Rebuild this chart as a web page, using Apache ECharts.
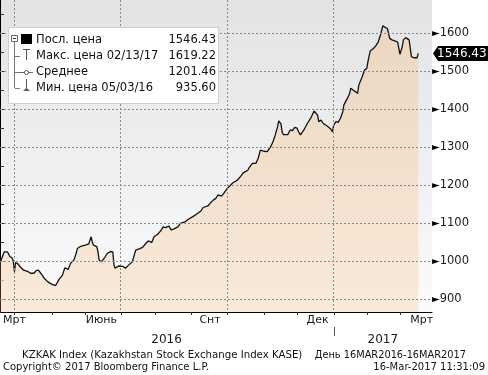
<!DOCTYPE html>
<html><head><meta charset="utf-8">
<script src="https://cdn.jsdelivr.net/npm/echarts@6/dist/echarts.min.js"></script>
<style>html,body{margin:0;padding:0;background:#fff}#c{width:488px;height:375px}</style>
</head><body><div id="c"></div>
<script>
// trading-day positions (days after 16 Mar 2016) and closing values of KZKAK Index
const dayOffsets = [0,3,6,8,10,11,12,13,15,17,20,24,25,26,29,31,33,35,38,41,44,45,48,51,54,56,59,61,64,66,67,70,74,77,79,80,81,84,85,86,88,91,93,96,98,99,100,103,107,109,112,115,116,118,121,124,127,129,132,134,137,140,142,144,147,149,151,155,157,161,164,168,172,175,177,181,183,186,188,190,193,195,198,201,203,207,210,212,213,216,217,220,223,225,227,230,233,236,238,240,242,243,245,246,247,251,252,253,255,257,259,260,262,265,268,271,273,274,277,278,280,282,285,288,290,291,293,295,297,299,300,303,305,306,308,310,312,313,316,318,320,321,323,326,328,330,332,334,336,338,340,342,345,347,348,349,351,352,354,355,357,359,361,362,364,365];
const closes = [1000,1024,1024,1012,1008,1000,972,996,993,985,976,972,975,968,968,975,976,968,955,946,940,942,935.6,952,963,982,978,994,1003,1021,1033,1039,1042,1045,1064,1051,1042,1038,1025,1003,998,1010,1020,1025,1024,990,981,987,986,981,990,998,1008,1029,1032,1036,1047,1053,1049,1064,1070,1080,1090,1088,1092,1082,1084,1090,1099,1103,1110,1117,1125,1132,1141,1145,1152,1161,1165,1174,1171,1178,1191,1200,1206,1213,1224,1232,1228,1239,1245,1257,1257,1270,1292,1289,1288,1301,1314,1332,1353,1369,1361,1340,1333,1333,1335,1345,1343,1352,1350,1342,1332,1345,1362,1376,1389,1395,1384,1367,1371,1362,1356,1349,1340,1358,1367,1365,1376,1393,1411,1428,1441,1455,1450,1446,1441,1463,1485,1503,1507,1525,1553,1560,1567,1577,1595,1619.22,1615,1612,1586,1582,1579,1576,1560,1544,1564,1582,1588,1584,1582,1538,1535,1540,1535,1546.43];

const yLabelMin = 900, yLabelMax = 1600, yLabelStep = 100;
const yTickMin = 900, yTickMax = 1650, yTickStep = 50;
const yMin = 866, yMax = 1687;
const xMax = 377;
const monthTicks = [12,45,74,105,135,166,198,230,259,291,320,349];
const quarterLines = [12,105,198,291];
const monthLabelPos = [12,88,183,277,368];
const monthLabels = ['Мрт','Июнь','Снт','Дек','Мрт'];
const yearLabelPos = [145,334];
const yearLabels = ['2016','2017'];
const yearBreak = 291;
const legendNames = ['Посл. цена','Макс. цена 02/13/17','Среднее','Мин. цена 05/03/16'];
const legendValues = ['1546.43','1619.22','1201.46','935.60'];
const lastPrice = 1546.43;
const footer1 = 'KZKAK Index (Kazakhstan Stock Exchange Index KASE)';
const footer1b = 'День 16MAR2016-16MAR2017';
const footer2 = 'Copyright© 2017 Bloomberg Finance L.P.';
const footer2b = '16-Mar-2017 11:31:09';

const FONT = 'DejaVu Sans';
const W = 488, H = 375, G = {left:0, right:56, top:0, bottom:63};
const plotW = W - G.left - G.right, plotH = H - G.top - G.bottom;
const py = v => G.top + (yMax - v) / (yMax - yMin) * plotH;
const px = d => G.left + d / xMax * plotW;

const chart = echarts.init(document.getElementById('c'), null, {renderer:'canvas'});
const dotted = {color:'#8a8a8a', width:1, type:[2,2]};
const hiddenAxis = {show:false};

const option = {
  animation:false,
  textStyle:{fontFamily:FONT},
  grid:[
    {left:G.left, right:G.right, top:G.top, bottom:G.bottom, show:true, borderWidth:0,
      backgroundColor:new echarts.graphic.LinearGradient(0,0,0,1,[{offset:0,color:'#e2e3e5'},{offset:1,color:'#fbfbfc'}])},
    {left:G.left, right:G.right, top:py(yLabelMax), bottom:H - py(yLabelMin)},
    {left:px(quarterLines[0]), right:W - px(quarterLines[quarterLines.length-1]), top:G.top, bottom:G.bottom},
    {left:G.left, right:G.right, top:py(yTickMax), bottom:H - py(yTickMin)}
  ],
  xAxis:[{
    gridIndex:0, type:'value', min:0, max:xMax, position:'bottom',
    axisLine:{show:true, lineStyle:{color:'#000', width:1}}, splitLine:{show:false}, axisTick:{show:false},
    axisLabel:{customValues:monthLabelPos, margin:3, fontSize:11, color:'#1a1a1a', fontFamily:FONT,
      formatter:v=>monthLabels[monthLabelPos.indexOf(v)]}
  },{
    gridIndex:0, type:'value', min:0, max:xMax, position:'bottom', offset:14,
    axisLine:{show:false}, splitLine:{show:false}, axisTick:{show:false},
    axisLabel:{customValues:yearLabelPos, margin:8, fontSize:12, color:'#1a1a1a', fontFamily:FONT,
      formatter:v=>yearLabels[yearLabelPos.indexOf(v)]}
  },
  Object.assign({gridIndex:1, type:'value', min:0, max:1}, hiddenAxis),
  {
    gridIndex:2, type:'value', min:0, max:quarterLines.length-1, interval:1, z:5,
    axisLine:{show:false}, axisTick:{show:false}, axisLabel:{show:false},
    splitLine:{show:true, lineStyle:dotted}
  },
  Object.assign({gridIndex:3, type:'value', min:0, max:1}, hiddenAxis)
  ],
  yAxis:[{
    gridIndex:0, type:'value', min:yMin, max:yMax, position:'right',
    axisLine:{show:true, lineStyle:{color:'#000', width:1}},
    splitLine:{show:false}, axisTick:{show:false}, axisLabel:{show:false}
  },{
    gridIndex:1, type:'value', min:yLabelMin, max:yLabelMax, interval:yLabelStep, position:'right', z:5,
    axisLine:{show:false}, axisTick:{show:false},
    splitLine:{show:true, lineStyle:dotted},
    axisLabel:{show:true, margin:0, color:'#1a1a1a', fontFamily:FONT, showMinLabel:true, showMaxLabel:true,
      formatter:v=>'{t|►}{v|'+v+'}',
      rich:{t:{fontSize:10, color:'#000', fontFamily:FONT}, v:{fontSize:11.5, color:'#1a1a1a', fontFamily:FONT}}}
  },
  Object.assign({gridIndex:2, type:'value', min:0, max:1}, hiddenAxis),
  {
    gridIndex:3, type:'value', min:yTickMin, max:yTickMax, interval:yTickStep, position:'right',
    axisLine:{show:false}, axisLabel:{show:false}, splitLine:{show:false},
    axisTick:{show:true, length:4, lineStyle:{color:'#333'}}
  }],
  series:[{
    type:'line', xAxisIndex:0, yAxisIndex:0, z:2,
    data:dayOffsets.map((d,i)=>[d,closes[i]]),
    showSymbol:false, symbol:'none',
    lineStyle:{color:'#111', width:1.3},
    areaStyle:{origin:'start', color:new echarts.graphic.LinearGradient(0,0,0,1,[{offset:0,color:'#eed1b2'},{offset:1,color:'#f8e2ca'}])}
  }]
};
chart.setOption(option);

const g = [];
const xR = chart.convertToPixel({xAxisIndex:0}, xMax);
const yB = chart.convertToPixel({yAxisIndex:0}, yMin);
// month ticks and year separator
monthTicks.forEach(v=>{
  const x = Math.round(chart.convertToPixel({xAxisIndex:0}, v)) + 0.5;
  g.push({type:'line', silent:true, shape:{x1:x,y1:yB,x2:x,y2:yB+3}, style:{stroke:'#333', lineWidth:1}, z:20});
});
{
  const x = Math.round(chart.convertToPixel({xAxisIndex:0}, yearBreak)) + 0.5;
  g.push({type:'line', silent:true, shape:{x1:x,y1:yB+15,x2:x,y2:yB+24}, style:{stroke:'#555', lineWidth:1}, z:20});
}
// legend box
const rowsY = [40,56,72,88];
g.push({type:'rect', shape:{x:8.5,y:27.5,width:210,height:76}, style:{fill:'#fff', stroke:'#cfcfcf', lineWidth:1}, z:100});
g.push({type:'rect', shape:{x:11.5,y:35.5,width:6,height:6}, style:{fill:'#fff', stroke:'#666'}, z:101});
g.push({type:'line', shape:{x1:13,y1:38.5,x2:16,y2:38.5}, style:{stroke:'#333'}, z:101});
g.push({type:'line', shape:{x1:14.5,y1:42,x2:14.5,y2:88}, style:{stroke:'#777'}, z:101});
[56,72,88].forEach(y=>g.push({type:'line', shape:{x1:15,y1:y+0.5,x2:20,y2:y+0.5}, style:{stroke:'#777'}, z:101}));
g.push({type:'rect', shape:{x:21,y:34,width:11,height:10}, style:{fill:'#000'}, z:101});
g.push({type:'line', shape:{x1:26.5,y1:49,x2:26.5,y2:60}, style:{stroke:'#555'}, z:101});
g.push({type:'line', shape:{x1:23,y1:49.5,x2:30,y2:49.5}, style:{stroke:'#555'}, z:101});
g.push({type:'line', shape:{x1:20,y1:72.5,x2:33,y2:72.5}, style:{stroke:'#666'}, z:101});
g.push({type:'circle', shape:{cx:26.5,cy:72.5,r:2}, style:{fill:'#fff', stroke:'#555'}, z:102});
g.push({type:'line', shape:{x1:26.5,y1:79,x2:26.5,y2:90}, style:{stroke:'#555'}, z:101});
g.push({type:'polygon', shape:{points:[[23,91],[30,91],[26.5,88]]}, style:{fill:'#555'}, z:101});
legendNames.forEach((n,i)=>{
  g.push({type:'text', x:36, y:rowsY[i], style:{text:n, fontFamily:FONT, fontSize:11.5, fill:'#111', textVerticalAlign:'middle', textAlign:'left'}, z:102});
  g.push({type:'text', x:216, y:rowsY[i], style:{text:legendValues[i], fontFamily:FONT, fontSize:11.5, fill:'#111', textVerticalAlign:'middle', textAlign:'right'}, z:102});
});
// footer
g.push({type:'text', x:22, y:355, style:{text:footer1, fontFamily:FONT, fontSize:10.2, fill:'#111', textVerticalAlign:'middle'}});
g.push({type:'text', x:466, y:355, style:{text:footer1b, fontFamily:FONT, fontSize:9.8, fill:'#111', textVerticalAlign:'middle', textAlign:'right'}});
g.push({type:'text', x:3, y:367.5, style:{text:footer2, fontFamily:FONT, fontSize:10, fill:'#111', textVerticalAlign:'middle'}});
g.push({type:'text', x:485, y:367.5, style:{text:footer2b, fontFamily:FONT, fontSize:10, fill:'#111', textVerticalAlign:'middle', textAlign:'right'}});
// last price tag on axis
const ty = chart.convertToPixel({yAxisIndex:0}, lastPrice);
g.push({type:'polygon', shape:{points:[[xR+1,ty],[xR+6,ty-7.5],[488,ty-7.5],[488,ty+7.5],[xR+6,ty+7.5]]}, style:{fill:'#000'}, z:110});
g.push({type:'text', x:xR+5, y:ty, style:{text:String(lastPrice), fontFamily:FONT, fontSize:12, fill:'#fff', textVerticalAlign:'middle'}, z:111});
chart.setOption({graphic:g});
</script></body></html>
